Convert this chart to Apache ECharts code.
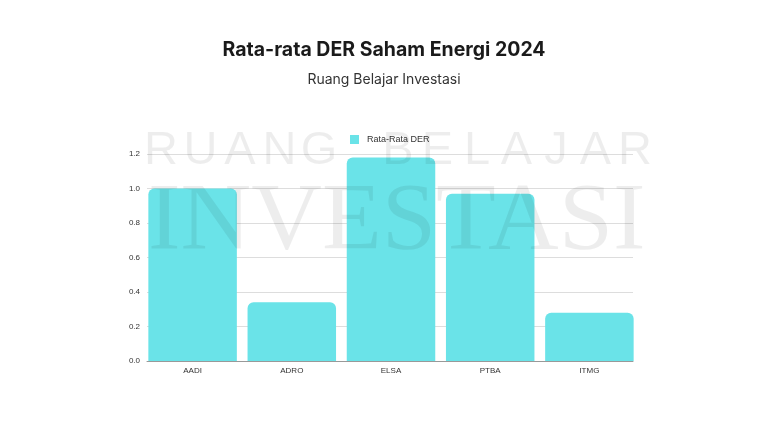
<!DOCTYPE html>
<html>
<head>
<meta charset="utf-8">
<script src="https://cdn.jsdelivr.net/npm/echarts@6/dist/echarts.min.js"></script>
<style>html,body{margin:0;padding:0;background:#fff;}#c{width:768px;height:424px;}</style>
</head>
<body>
<div id="c"></div>
<script>
var categories = ['AADI', 'ADRO', 'ELSA', 'PTBA', 'ITMG'];
var derValues = [1.00, 0.34, 1.18, 0.97, 0.28];
var seriesName = 'Rata-Rata DER';
var titleText = 'Rata-rata DER Saham Energi 2024';
var subtitleText = 'Ruang Belajar Investasi';
var wmTop = 'RUANG BELAJAR';
var wmBottom = 'INVESTASI';

var chart = echarts.init(document.getElementById('c'));
var wmColor = 'rgba(0,0,0,0.07)';
var graphics = [];
var letters = wmTop.split('');
for (var i = 0; i < letters.length; i++) {
  if (letters[i] === ' ') continue;
  graphics.push({
    type: 'text', z: 100, silent: true,
    x: 161 + i * 39.5, y: 151,
    style: { text: letters[i], fill: wmColor, font: '47px "Liberation Sans"', align: 'center', verticalAlign: 'middle' }
  });
}
graphics.push({
  type: 'text', z: 100, silent: true,
  x: 148, y: 224, scaleX: 1.03,
  style: { text: wmBottom, fill: wmColor, font: '95px "Liberation Serif"', align: 'left', verticalAlign: 'middle' }
});

var yCommon = { type: 'value', min: 0, max: 1.2, interval: 0.2 };

chart.setOption({
  backgroundColor: '#ffffff',
  title: [
    { text: titleText, left: 'center', top: 35, textStyle: { fontFamily: 'Inter', fontWeight: 'bold', fontSize: 19.5, color: '#1a1a1a' } },
    { text: subtitleText, left: 'center', top: 68, textStyle: { fontFamily: 'Inter', fontWeight: 'normal', fontSize: 14, color: '#333' } }
  ],
  legend: {
    data: [seriesName], top: 130, left: 345,
    itemWidth: 9, itemHeight: 9, itemGap: 8,
    icon: 'rect',
    textStyle: { fontFamily: 'Liberation Sans', fontSize: 9, color: '#333', padding: [0, 0, 0, 3] }
  },
  grid: [
    { left: 143, right: 129, top: 154, bottom: 63 },
    { left: 147, right: 135, top: 154, bottom: 63 }
  ],
  xAxis: [
    {
      type: 'category', data: categories, gridIndex: 0,
      axisLine: { show: false },
      axisTick: { show: false },
      axisLabel: { fontFamily: 'Liberation Sans', fontSize: 8, color: '#333', margin: 6 }
    },
    {
      type: 'category', data: categories, gridIndex: 1,
      axisLine: { lineStyle: { color: '#999', width: 1 } },
      axisTick: { show: false },
      axisLabel: { show: false }
    }
  ],
  yAxis: [
    Object.assign({ gridIndex: 0, axisLine: { show: false }, axisTick: { show: false }, splitLine: { show: false }, axisLabel: { show: false } }, yCommon),
    Object.assign({
      gridIndex: 1,
      axisLine: { show: false }, axisTick: { show: false },
      splitLine: { lineStyle: { color: '#dddddd', width: 1 } },
      axisLabel: { fontFamily: 'Liberation Sans', fontSize: 8, color: '#333', margin: 7, formatter: function (v) { return v.toFixed(1); } }
    }, yCommon)
  ],
  series: [{
    name: seriesName, type: 'bar', data: derValues,
    xAxisIndex: 0, yAxisIndex: 0,
    barWidth: 88.5, z: 5,
    itemStyle: { color: '#6ae3e8', borderRadius: [6, 6, 0, 0] }
  }],
  graphic: graphics,
  animation: false
});
</script>
</body>
</html>
